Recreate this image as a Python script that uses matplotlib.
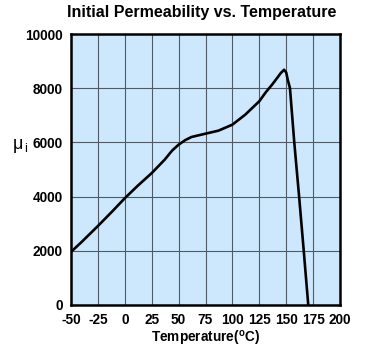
import matplotlib
matplotlib.use("Agg")
import matplotlib.pyplot as plt

temp = [-50, -40, -25, -12, 0, 12, 25, 37, 44, 50, 56, 62, 75, 87, 100, 112, 125, 131, 137, 142, 145, 148, 150, 151.5, 153.5, 157.5, 162, 166.3, 170.5]
mu = [1960, 2330, 2915, 3440, 3940, 4400, 4867, 5360, 5700, 5915, 6080, 6200, 6322, 6433, 6655, 7026, 7519, 7850, 8137, 8400, 8560, 8680, 8580, 8300, 8000, 6000, 4000, 2000, 0]

xticks = [-50, -25, 0, 25, 50, 75, 100, 125, 150, 175, 200]
yticks = [0, 2000, 4000, 6000, 8000, 10000]

plt.rcParams['font.family'] = ['Liberation Sans', 'DejaVu Sans']
plt.rcParams['font.weight'] = 'bold'

fig = plt.figure(figsize=(3.79, 3.51), dpi=100)
ax = fig.add_axes([71/379, 1-305/351, (340-71)/379, (305-34)/351])
ax.set_facecolor('#cde8fd')
ax.plot(temp, mu, color='black', lw=1.9, solid_joinstyle='round')
ax.set_xlim(-50, 200)
ax.set_ylim(0, 10000)
ax.set_xticks(xticks)
ax.set_yticks(yticks)
ax.set_xticklabels([str(t) for t in xticks], fontsize=9.8, fontweight='bold')
ax.set_yticklabels([str(t) for t in yticks], fontsize=9.8, fontweight='bold')
ax.tick_params(length=0, pad=6)
ax.grid(True, color='#4f5a66', lw=0.8)
ax.set_axisbelow(True)
for s in ax.spines.values():
    s.set_linewidth(1.8)
    s.set_color('black')
ax.set_xlabel('Temperature($\\mathregular{^{o}}$C)', fontsize=9.8, fontweight='bold', labelpad=1.5)
fig.text(20/379, 1-146/351, '$\\mathregular{\\mu_{\\,i}}$', fontsize=13, ha='center', va='center', fontweight='normal')
fig.text(202/379, 1-12/351, 'Initial Permeability vs. Temperature', fontsize=11.5, fontweight='bold', ha='center', va='center')
fig.savefig('out.png', dpi=100, facecolor='white')
